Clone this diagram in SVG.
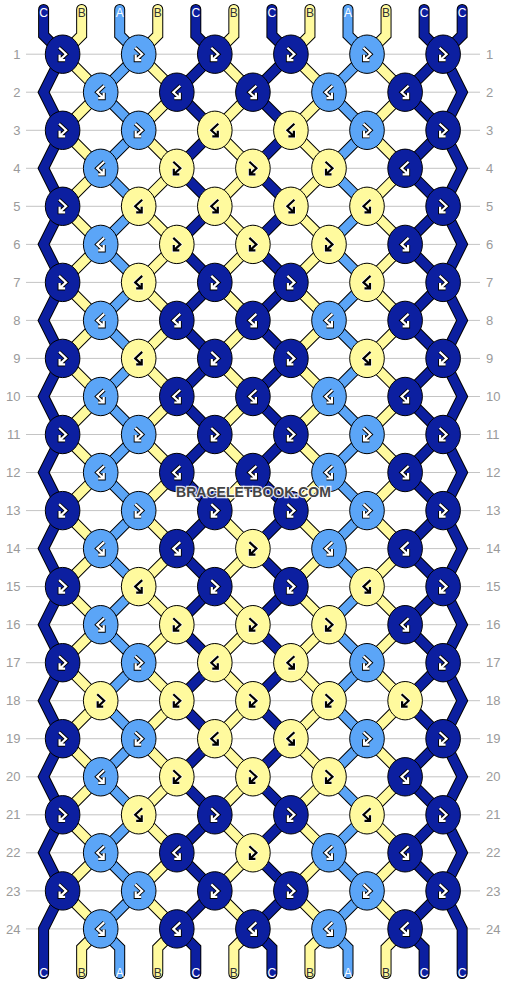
<svg xmlns="http://www.w3.org/2000/svg" xmlns:xlink="http://www.w3.org/1999/xlink" width="506" height="984" viewBox="0 0 506 984">
<style>
.grid line{stroke:#c4c4c4;stroke-width:1}
.rl{font-family:"Liberation Sans",Arial,sans-serif;font-size:13px;fill:#9a9a9a}
.ol{fill:none;stroke:#000;stroke-width:11;stroke-linecap:round;stroke-linejoin:miter}
.sc{fill:none;stroke-width:9;stroke-linecap:round;stroke-linejoin:miter}
.sC{stroke:#0c1fa0}.sA{stroke:#5ba5f7}.sB{stroke:#fffa9e}
ellipse{stroke:#000;stroke-width:1}
.C{fill:#0c1fa0}.A{fill:#5ba5f7}.Y{fill:#fffa9e}
.go{fill:none;stroke:#000;stroke-width:4}
.gw{fill:none;stroke:#fff;stroke-width:2.2}
.gy{fill:none;stroke:#fff;stroke-width:3.6}
.gk{fill:none;stroke:#000;stroke-width:2.2}
.lb{font-family:"Liberation Sans",Arial,sans-serif;font-size:12px;text-anchor:middle}
.lw{fill:#fff}.ld{fill:#333}
.wm{font-family:"Liberation Sans",Arial,sans-serif;font-size:14px;font-weight:bold;text-anchor:middle;fill:#444;stroke:#fff;stroke-width:2.5;stroke-opacity:0.85;paint-order:stroke}
</style>
<defs>
<path id="fbp" d="M-3.5-6.5L3.5 0L-3 6M-3 0.5V6H2.5"/>
<path id="bfp" d="M3.5-6.5L-3.5 0L3 6M3 0.5V6H-2.5"/>
<g id="fbw"><use href="#fbp" class="go"/><use href="#fbp" class="gw"/></g>
<g id="bfw"><use href="#bfp" class="go"/><use href="#bfp" class="gw"/></g>
<g id="fbk"><use href="#fbp" class="gy"/><use href="#fbp" class="gk"/></g>
<g id="bfk"><use href="#bfp" class="gy"/><use href="#bfp" class="gk"/></g>
<path id="s0" d="M43.6 9.5V35.2l19.025 19l-19.025 38.03l19.025 38.03l-19.025 38.03l19.025 38.03l-19.025 38.03l19.025 38.03l-19.025 38.03l19.025 38.03l-19.025 38.03l19.025 38.03l-19.025 38.03l19.025 38.03l-19.025 38.03l19.025 38.03l-19.025 38.03l19.025 38.03l-19.025 38.03l19.025 38.03l-19.025 38.03l19.025 38.03l-19.025 38.03l19.025 38.03l-19.025 38.03V973.5"/>
<path id="s11" d="M462.15 9.5V35.2l-19.025 19l19.025 38.03l-19.025 38.03l19.025 38.03l-19.025 38.03l19.025 38.03l-19.025 38.03l19.025 38.03l-19.025 38.03l19.025 38.03l-19.025 38.03l19.025 38.03l-19.025 38.03l19.025 38.03l-19.025 38.03l19.025 38.03l-19.025 38.03l19.025 38.03l-19.025 38.03l19.025 38.03l-19.025 38.03l19.025 38.03l-19.025 38.03l19.025 38.03V973.5"/>
<path id="po" d="l38.05 38.03l-38.05 38.03l38.05 38.03l-38.05 38.03l38.05 38.03l-38.05 38.03l38.05 38.03l-38.05 38.03l38.05 38.03l-38.05 38.03l38.05 38.03l-38.05 38.03l38.05 38.03l-38.05 38.03l38.05 38.03l-38.05 38.03l38.05 38.03l-38.05 38.03l38.05 38.03l-38.05 38.03l38.05 38.03l-38.05 38.03l38.05 38.03"/>
<path id="s1" d="M81.65 9.5V35.2l-19.025 19l38.05 38.03l-38.05 38.03l38.05 38.03l-38.05 38.03l38.05 38.03l-38.05 38.03l38.05 38.03l-38.05 38.03l38.05 38.03l-38.05 38.03l38.05 38.03l-38.05 38.03l38.05 38.03l-38.05 38.03l38.05 38.03l-38.05 38.03l38.05 38.03l-38.05 38.03l38.05 38.03l-38.05 38.03l38.05 38.03l-38.05 38.03l38.05 38.03l-19.025 19V973.5"/>
<path id="s3" d="M157.75 9.5V35.2l-19.025 19l38.05 38.03l-38.05 38.03l38.05 38.03l-38.05 38.03l38.05 38.03l-38.05 38.03l38.05 38.03l-38.05 38.03l38.05 38.03l-38.05 38.03l38.05 38.03l-38.05 38.03l38.05 38.03l-38.05 38.03l38.05 38.03l-38.05 38.03l38.05 38.03l-38.05 38.03l38.05 38.03l-38.05 38.03l38.05 38.03l-38.05 38.03l38.05 38.03l-19.025 19V973.5"/>
<path id="s5" d="M233.85 9.5V35.2l-19.025 19l38.05 38.03l-38.05 38.03l38.05 38.03l-38.05 38.03l38.05 38.03l-38.05 38.03l38.05 38.03l-38.05 38.03l38.05 38.03l-38.05 38.03l38.05 38.03l-38.05 38.03l38.05 38.03l-38.05 38.03l38.05 38.03l-38.05 38.03l38.05 38.03l-38.05 38.03l38.05 38.03l-38.05 38.03l38.05 38.03l-38.05 38.03l38.05 38.03l-19.025 19V973.5"/>
<path id="s7" d="M309.95 9.5V35.2l-19.025 19l38.05 38.03l-38.05 38.03l38.05 38.03l-38.05 38.03l38.05 38.03l-38.05 38.03l38.05 38.03l-38.05 38.03l38.05 38.03l-38.05 38.03l38.05 38.03l-38.05 38.03l38.05 38.03l-38.05 38.03l38.05 38.03l-38.05 38.03l38.05 38.03l-38.05 38.03l38.05 38.03l-38.05 38.03l38.05 38.03l-38.05 38.03l38.05 38.03l-19.025 19V973.5"/>
<path id="s9" d="M386.05 9.5V35.2l-19.025 19l38.05 38.03l-38.05 38.03l38.05 38.03l-38.05 38.03l38.05 38.03l-38.05 38.03l38.05 38.03l-38.05 38.03l38.05 38.03l-38.05 38.03l38.05 38.03l-38.05 38.03l38.05 38.03l-38.05 38.03l38.05 38.03l-38.05 38.03l38.05 38.03l-38.05 38.03l38.05 38.03l-38.05 38.03l38.05 38.03l-38.05 38.03l38.05 38.03l-19.025 19V973.5"/>
<path id="s2" d="M119.7 9.5V35.2l19.025 19l-38.05 38.03l38.05 38.03l-38.05 38.03l38.05 38.03l-38.05 38.03l38.05 38.03l-38.05 38.03l38.05 38.03l-38.05 38.03l38.05 38.03l-38.05 38.03l38.05 38.03l-38.05 38.03l38.05 38.03l-38.05 38.03l38.05 38.03l-38.05 38.03l38.05 38.03l-38.05 38.03l38.05 38.03l-38.05 38.03l38.05 38.03l-38.05 38.03l19.025 19V973.5"/>
<path id="s4" d="M195.8 9.5V35.2l19.025 19l-38.05 38.03l38.05 38.03l-38.05 38.03l38.05 38.03l-38.05 38.03l38.05 38.03l-38.05 38.03l38.05 38.03l-38.05 38.03l38.05 38.03l-38.05 38.03l38.05 38.03l-38.05 38.03l38.05 38.03l-38.05 38.03l38.05 38.03l-38.05 38.03l38.05 38.03l-38.05 38.03l38.05 38.03l-38.05 38.03l38.05 38.03l-38.05 38.03l19.025 19V973.5"/>
<path id="s6" d="M271.9 9.5V35.2l19.025 19l-38.05 38.03l38.05 38.03l-38.05 38.03l38.05 38.03l-38.05 38.03l38.05 38.03l-38.05 38.03l38.05 38.03l-38.05 38.03l38.05 38.03l-38.05 38.03l38.05 38.03l-38.05 38.03l38.05 38.03l-38.05 38.03l38.05 38.03l-38.05 38.03l38.05 38.03l-38.05 38.03l38.05 38.03l-38.05 38.03l38.05 38.03l-38.05 38.03l19.025 19V973.5"/>
<path id="s8" d="M348 9.5V35.2l19.025 19l-38.05 38.03l38.05 38.03l-38.05 38.03l38.05 38.03l-38.05 38.03l38.05 38.03l-38.05 38.03l38.05 38.03l-38.05 38.03l38.05 38.03l-38.05 38.03l38.05 38.03l-38.05 38.03l38.05 38.03l-38.05 38.03l38.05 38.03l-38.05 38.03l38.05 38.03l-38.05 38.03l38.05 38.03l-38.05 38.03l38.05 38.03l-38.05 38.03l19.025 19V973.5"/>
<path id="s10" d="M424.1 9.5V35.2l19.025 19l-38.05 38.03l38.05 38.03l-38.05 38.03l38.05 38.03l-38.05 38.03l38.05 38.03l-38.05 38.03l38.05 38.03l-38.05 38.03l38.05 38.03l-38.05 38.03l38.05 38.03l-38.05 38.03l38.05 38.03l-38.05 38.03l38.05 38.03l-38.05 38.03l38.05 38.03l-38.05 38.03l38.05 38.03l-38.05 38.03l38.05 38.03l-38.05 38.03l19.025 19V973.5"/>
</defs>
<rect width="506" height="984" fill="#fff"/>
<g id="grid" class="grid">
<line x1="26" x2="480" y1="54.2" y2="54.2"/><line x1="26" x2="480" y1="92.2" y2="92.2"/><line x1="26" x2="480" y1="130.3" y2="130.3"/><line x1="26" x2="480" y1="168.3" y2="168.3"/><line x1="26" x2="480" y1="206.3" y2="206.3"/><line x1="26" x2="480" y1="244.4" y2="244.4"/><line x1="26" x2="480" y1="282.4" y2="282.4"/><line x1="26" x2="480" y1="320.4" y2="320.4"/><line x1="26" x2="480" y1="358.4" y2="358.4"/><line x1="26" x2="480" y1="396.5" y2="396.5"/><line x1="26" x2="480" y1="434.5" y2="434.5"/><line x1="26" x2="480" y1="472.5" y2="472.5"/><line x1="26" x2="480" y1="510.6" y2="510.6"/><line x1="26" x2="480" y1="548.6" y2="548.6"/><line x1="26" x2="480" y1="586.6" y2="586.6"/><line x1="26" x2="480" y1="624.7" y2="624.7"/><line x1="26" x2="480" y1="662.7" y2="662.7"/><line x1="26" x2="480" y1="700.7" y2="700.7"/><line x1="26" x2="480" y1="738.7" y2="738.7"/><line x1="26" x2="480" y1="776.8" y2="776.8"/><line x1="26" x2="480" y1="814.8" y2="814.8"/><line x1="26" x2="480" y1="852.8" y2="852.8"/><line x1="26" x2="480" y1="890.9" y2="890.9"/><line x1="26" x2="480" y1="928.9" y2="928.9"/>
</g>
<g id="row-labels" class="rl">
<g text-anchor="end">
<text x="20.5" y="58.8">1</text><text x="20.5" y="96.8">2</text><text x="20.5" y="134.9">3</text><text x="20.5" y="172.9">4</text><text x="20.5" y="210.9">5</text><text x="20.5" y="249">6</text><text x="20.5" y="287">7</text><text x="20.5" y="325">8</text><text x="20.5" y="363">9</text><text x="20.5" y="401.1">10</text><text x="20.5" y="439.1">11</text><text x="20.5" y="477.1">12</text><text x="20.5" y="515.2">13</text><text x="20.5" y="553.2">14</text><text x="20.5" y="591.2">15</text><text x="20.5" y="629.3">16</text><text x="20.5" y="667.3">17</text><text x="20.5" y="705.3">18</text><text x="20.5" y="743.3">19</text><text x="20.5" y="781.4">20</text><text x="20.5" y="819.4">21</text><text x="20.5" y="857.4">22</text><text x="20.5" y="895.5">23</text><text x="20.5" y="933.5">24</text>
</g>
<g text-anchor="start">
<text x="486" y="58.8">1</text><text x="486" y="96.8">2</text><text x="486" y="134.9">3</text><text x="486" y="172.9">4</text><text x="486" y="210.9">5</text><text x="486" y="249">6</text><text x="486" y="287">7</text><text x="486" y="325">8</text><text x="486" y="363">9</text><text x="486" y="401.1">10</text><text x="486" y="439.1">11</text><text x="486" y="477.1">12</text><text x="486" y="515.2">13</text><text x="486" y="553.2">14</text><text x="486" y="591.2">15</text><text x="486" y="629.3">16</text><text x="486" y="667.3">17</text><text x="486" y="705.3">18</text><text x="486" y="743.3">19</text><text x="486" y="781.4">20</text><text x="486" y="819.4">21</text><text x="486" y="857.4">22</text><text x="486" y="895.5">23</text><text x="486" y="933.5">24</text>
</g>
</g>
<g id="connectors">
<use href="#s0" class="ol"/><use href="#s0" class="sc sC"/>
<use href="#s1" class="ol"/><use href="#s1" class="sc sB"/>
<use href="#s2" class="ol"/><use href="#s2" class="sc sA"/>
<use href="#s3" class="ol"/><use href="#s3" class="sc sB"/>
<use href="#s4" class="ol"/><use href="#s4" class="sc sC"/>
<use href="#s5" class="ol"/><use href="#s5" class="sc sB"/>
<use href="#s6" class="ol"/><use href="#s6" class="sc sC"/>
<use href="#s7" class="ol"/><use href="#s7" class="sc sB"/>
<use href="#s8" class="ol"/><use href="#s8" class="sc sA"/>
<use href="#s9" class="ol"/><use href="#s9" class="sc sB"/>
<use href="#s10" class="ol"/><use href="#s10" class="sc sC"/>
<use href="#s11" class="ol"/><use href="#s11" class="sc sC"/>
</g>
<g id="knots">
<g id="k1-1" transform="translate(62.6 54.2)"><ellipse class="C" rx="17.3" ry="19.2"/><use href="#fbw"/></g>
<g id="k1-2" transform="translate(138.7 54.2)"><ellipse class="A" rx="17.3" ry="19.2"/><use href="#fbw"/></g>
<g id="k1-3" transform="translate(214.8 54.2)"><ellipse class="C" rx="17.3" ry="19.2"/><use href="#fbw"/></g>
<g id="k1-4" transform="translate(290.9 54.2)"><ellipse class="C" rx="17.3" ry="19.2"/><use href="#fbw"/></g>
<g id="k1-5" transform="translate(367 54.2)"><ellipse class="A" rx="17.3" ry="19.2"/><use href="#fbw"/></g>
<g id="k1-6" transform="translate(443.1 54.2)"><ellipse class="C" rx="17.3" ry="19.2"/><use href="#fbw"/></g>
<g id="k2-1" transform="translate(100.7 92.2)"><ellipse class="A" rx="17.3" ry="19.2"/><use href="#bfw"/></g>
<g id="k2-2" transform="translate(176.8 92.2)"><ellipse class="C" rx="17.3" ry="19.2"/><use href="#bfw"/></g>
<g id="k2-3" transform="translate(252.9 92.2)"><ellipse class="C" rx="17.3" ry="19.2"/><use href="#bfw"/></g>
<g id="k2-4" transform="translate(329 92.2)"><ellipse class="A" rx="17.3" ry="19.2"/><use href="#bfw"/></g>
<g id="k2-5" transform="translate(405.1 92.2)"><ellipse class="C" rx="17.3" ry="19.2"/><use href="#bfw"/></g>
<g id="k3-1" transform="translate(62.6 130.3)"><ellipse class="C" rx="17.3" ry="19.2"/><use href="#fbw"/></g>
<g id="k3-2" transform="translate(138.7 130.3)"><ellipse class="A" rx="17.3" ry="19.2"/><use href="#fbw"/></g>
<g id="k3-3" transform="translate(214.8 130.3)"><ellipse class="Y" rx="17.3" ry="19.2"/><use href="#bfk"/></g>
<g id="k3-4" transform="translate(290.9 130.3)"><ellipse class="Y" rx="17.3" ry="19.2"/><use href="#bfk"/></g>
<g id="k3-5" transform="translate(367 130.3)"><ellipse class="A" rx="17.3" ry="19.2"/><use href="#fbw"/></g>
<g id="k3-6" transform="translate(443.1 130.3)"><ellipse class="C" rx="17.3" ry="19.2"/><use href="#fbw"/></g>
<g id="k4-1" transform="translate(100.7 168.3)"><ellipse class="A" rx="17.3" ry="19.2"/><use href="#bfw"/></g>
<g id="k4-2" transform="translate(176.8 168.3)"><ellipse class="Y" rx="17.3" ry="19.2"/><use href="#fbk"/></g>
<g id="k4-3" transform="translate(252.9 168.3)"><ellipse class="Y" rx="17.3" ry="19.2"/><use href="#fbk"/></g>
<g id="k4-4" transform="translate(329 168.3)"><ellipse class="Y" rx="17.3" ry="19.2"/><use href="#fbk"/></g>
<g id="k4-5" transform="translate(405.1 168.3)"><ellipse class="C" rx="17.3" ry="19.2"/><use href="#bfw"/></g>
<g id="k5-1" transform="translate(62.6 206.3)"><ellipse class="C" rx="17.3" ry="19.2"/><use href="#fbw"/></g>
<g id="k5-2" transform="translate(138.7 206.3)"><ellipse class="Y" rx="17.3" ry="19.2"/><use href="#bfk"/></g>
<g id="k5-3" transform="translate(214.8 206.3)"><ellipse class="Y" rx="17.3" ry="19.2"/><use href="#bfk"/></g>
<g id="k5-4" transform="translate(290.9 206.3)"><ellipse class="Y" rx="17.3" ry="19.2"/><use href="#bfk"/></g>
<g id="k5-5" transform="translate(367 206.3)"><ellipse class="Y" rx="17.3" ry="19.2"/><use href="#bfk"/></g>
<g id="k5-6" transform="translate(443.1 206.3)"><ellipse class="C" rx="17.3" ry="19.2"/><use href="#fbw"/></g>
<g id="k6-1" transform="translate(100.7 244.4)"><ellipse class="A" rx="17.3" ry="19.2"/><use href="#bfw"/></g>
<g id="k6-2" transform="translate(176.8 244.4)"><ellipse class="Y" rx="17.3" ry="19.2"/><use href="#fbk"/></g>
<g id="k6-3" transform="translate(252.9 244.4)"><ellipse class="Y" rx="17.3" ry="19.2"/><use href="#fbk"/></g>
<g id="k6-4" transform="translate(329 244.4)"><ellipse class="Y" rx="17.3" ry="19.2"/><use href="#fbk"/></g>
<g id="k6-5" transform="translate(405.1 244.4)"><ellipse class="C" rx="17.3" ry="19.2"/><use href="#bfw"/></g>
<g id="k7-1" transform="translate(62.6 282.4)"><ellipse class="C" rx="17.3" ry="19.2"/><use href="#fbw"/></g>
<g id="k7-2" transform="translate(138.7 282.4)"><ellipse class="Y" rx="17.3" ry="19.2"/><use href="#bfk"/></g>
<g id="k7-3" transform="translate(214.8 282.4)"><ellipse class="C" rx="17.3" ry="19.2"/><use href="#fbw"/></g>
<g id="k7-4" transform="translate(290.9 282.4)"><ellipse class="C" rx="17.3" ry="19.2"/><use href="#fbw"/></g>
<g id="k7-5" transform="translate(367 282.4)"><ellipse class="Y" rx="17.3" ry="19.2"/><use href="#bfk"/></g>
<g id="k7-6" transform="translate(443.1 282.4)"><ellipse class="C" rx="17.3" ry="19.2"/><use href="#fbw"/></g>
<g id="k8-1" transform="translate(100.7 320.4)"><ellipse class="A" rx="17.3" ry="19.2"/><use href="#bfw"/></g>
<g id="k8-2" transform="translate(176.8 320.4)"><ellipse class="C" rx="17.3" ry="19.2"/><use href="#bfw"/></g>
<g id="k8-3" transform="translate(252.9 320.4)"><ellipse class="C" rx="17.3" ry="19.2"/><use href="#bfw"/></g>
<g id="k8-4" transform="translate(329 320.4)"><ellipse class="A" rx="17.3" ry="19.2"/><use href="#bfw"/></g>
<g id="k8-5" transform="translate(405.1 320.4)"><ellipse class="C" rx="17.3" ry="19.2"/><use href="#bfw"/></g>
<g id="k9-1" transform="translate(62.6 358.4)"><ellipse class="C" rx="17.3" ry="19.2"/><use href="#fbw"/></g>
<g id="k9-2" transform="translate(138.7 358.4)"><ellipse class="Y" rx="17.3" ry="19.2"/><use href="#bfk"/></g>
<g id="k9-3" transform="translate(214.8 358.4)"><ellipse class="C" rx="17.3" ry="19.2"/><use href="#fbw"/></g>
<g id="k9-4" transform="translate(290.9 358.4)"><ellipse class="C" rx="17.3" ry="19.2"/><use href="#fbw"/></g>
<g id="k9-5" transform="translate(367 358.4)"><ellipse class="Y" rx="17.3" ry="19.2"/><use href="#bfk"/></g>
<g id="k9-6" transform="translate(443.1 358.4)"><ellipse class="C" rx="17.3" ry="19.2"/><use href="#fbw"/></g>
<g id="k10-1" transform="translate(100.7 396.5)"><ellipse class="A" rx="17.3" ry="19.2"/><use href="#bfw"/></g>
<g id="k10-2" transform="translate(176.8 396.5)"><ellipse class="C" rx="17.3" ry="19.2"/><use href="#bfw"/></g>
<g id="k10-3" transform="translate(252.9 396.5)"><ellipse class="C" rx="17.3" ry="19.2"/><use href="#bfw"/></g>
<g id="k10-4" transform="translate(329 396.5)"><ellipse class="A" rx="17.3" ry="19.2"/><use href="#bfw"/></g>
<g id="k10-5" transform="translate(405.1 396.5)"><ellipse class="C" rx="17.3" ry="19.2"/><use href="#bfw"/></g>
<g id="k11-1" transform="translate(62.6 434.5)"><ellipse class="C" rx="17.3" ry="19.2"/><use href="#fbw"/></g>
<g id="k11-2" transform="translate(138.7 434.5)"><ellipse class="A" rx="17.3" ry="19.2"/><use href="#fbw"/></g>
<g id="k11-3" transform="translate(214.8 434.5)"><ellipse class="C" rx="17.3" ry="19.2"/><use href="#fbw"/></g>
<g id="k11-4" transform="translate(290.9 434.5)"><ellipse class="C" rx="17.3" ry="19.2"/><use href="#fbw"/></g>
<g id="k11-5" transform="translate(367 434.5)"><ellipse class="A" rx="17.3" ry="19.2"/><use href="#fbw"/></g>
<g id="k11-6" transform="translate(443.1 434.5)"><ellipse class="C" rx="17.3" ry="19.2"/><use href="#fbw"/></g>
<g id="k12-1" transform="translate(100.7 472.5)"><ellipse class="A" rx="17.3" ry="19.2"/><use href="#bfw"/></g>
<g id="k12-2" transform="translate(176.8 472.5)"><ellipse class="C" rx="17.3" ry="19.2"/><use href="#bfw"/></g>
<g id="k12-3" transform="translate(252.9 472.5)"><ellipse class="C" rx="17.3" ry="19.2"/><use href="#bfw"/></g>
<g id="k12-4" transform="translate(329 472.5)"><ellipse class="A" rx="17.3" ry="19.2"/><use href="#bfw"/></g>
<g id="k12-5" transform="translate(405.1 472.5)"><ellipse class="C" rx="17.3" ry="19.2"/><use href="#bfw"/></g>
<g id="k13-1" transform="translate(62.6 510.6)"><ellipse class="C" rx="17.3" ry="19.2"/><use href="#fbw"/></g>
<g id="k13-2" transform="translate(138.7 510.6)"><ellipse class="A" rx="17.3" ry="19.2"/><use href="#fbw"/></g>
<g id="k13-3" transform="translate(214.8 510.6)"><ellipse class="C" rx="17.3" ry="19.2"/><use href="#fbw"/></g>
<g id="k13-4" transform="translate(290.9 510.6)"><ellipse class="C" rx="17.3" ry="19.2"/><use href="#fbw"/></g>
<g id="k13-5" transform="translate(367 510.6)"><ellipse class="A" rx="17.3" ry="19.2"/><use href="#fbw"/></g>
<g id="k13-6" transform="translate(443.1 510.6)"><ellipse class="C" rx="17.3" ry="19.2"/><use href="#fbw"/></g>
<g id="k14-1" transform="translate(100.7 548.6)"><ellipse class="A" rx="17.3" ry="19.2"/><use href="#bfw"/></g>
<g id="k14-2" transform="translate(176.8 548.6)"><ellipse class="C" rx="17.3" ry="19.2"/><use href="#bfw"/></g>
<g id="k14-3" transform="translate(252.9 548.6)"><ellipse class="Y" rx="17.3" ry="19.2"/><use href="#fbk"/></g>
<g id="k14-4" transform="translate(329 548.6)"><ellipse class="A" rx="17.3" ry="19.2"/><use href="#bfw"/></g>
<g id="k14-5" transform="translate(405.1 548.6)"><ellipse class="C" rx="17.3" ry="19.2"/><use href="#bfw"/></g>
<g id="k15-1" transform="translate(62.6 586.6)"><ellipse class="C" rx="17.3" ry="19.2"/><use href="#fbw"/></g>
<g id="k15-2" transform="translate(138.7 586.6)"><ellipse class="Y" rx="17.3" ry="19.2"/><use href="#bfk"/></g>
<g id="k15-3" transform="translate(214.8 586.6)"><ellipse class="C" rx="17.3" ry="19.2"/><use href="#fbw"/></g>
<g id="k15-4" transform="translate(290.9 586.6)"><ellipse class="C" rx="17.3" ry="19.2"/><use href="#fbw"/></g>
<g id="k15-5" transform="translate(367 586.6)"><ellipse class="Y" rx="17.3" ry="19.2"/><use href="#bfk"/></g>
<g id="k15-6" transform="translate(443.1 586.6)"><ellipse class="C" rx="17.3" ry="19.2"/><use href="#fbw"/></g>
<g id="k16-1" transform="translate(100.7 624.7)"><ellipse class="A" rx="17.3" ry="19.2"/><use href="#bfw"/></g>
<g id="k16-2" transform="translate(176.8 624.7)"><ellipse class="Y" rx="17.3" ry="19.2"/><use href="#fbk"/></g>
<g id="k16-3" transform="translate(252.9 624.7)"><ellipse class="Y" rx="17.3" ry="19.2"/><use href="#fbk"/></g>
<g id="k16-4" transform="translate(329 624.7)"><ellipse class="Y" rx="17.3" ry="19.2"/><use href="#fbk"/></g>
<g id="k16-5" transform="translate(405.1 624.7)"><ellipse class="C" rx="17.3" ry="19.2"/><use href="#bfw"/></g>
<g id="k17-1" transform="translate(62.6 662.7)"><ellipse class="C" rx="17.3" ry="19.2"/><use href="#fbw"/></g>
<g id="k17-2" transform="translate(138.7 662.7)"><ellipse class="A" rx="17.3" ry="19.2"/><use href="#fbw"/></g>
<g id="k17-3" transform="translate(214.8 662.7)"><ellipse class="Y" rx="17.3" ry="19.2"/><use href="#bfk"/></g>
<g id="k17-4" transform="translate(290.9 662.7)"><ellipse class="Y" rx="17.3" ry="19.2"/><use href="#bfk"/></g>
<g id="k17-5" transform="translate(367 662.7)"><ellipse class="A" rx="17.3" ry="19.2"/><use href="#fbw"/></g>
<g id="k17-6" transform="translate(443.1 662.7)"><ellipse class="C" rx="17.3" ry="19.2"/><use href="#fbw"/></g>
<g id="k18-1" transform="translate(100.7 700.7)"><ellipse class="Y" rx="17.3" ry="19.2"/><use href="#fbk"/></g>
<g id="k18-2" transform="translate(176.8 700.7)"><ellipse class="Y" rx="17.3" ry="19.2"/><use href="#fbk"/></g>
<g id="k18-3" transform="translate(252.9 700.7)"><ellipse class="Y" rx="17.3" ry="19.2"/><use href="#fbk"/></g>
<g id="k18-4" transform="translate(329 700.7)"><ellipse class="Y" rx="17.3" ry="19.2"/><use href="#fbk"/></g>
<g id="k18-5" transform="translate(405.1 700.7)"><ellipse class="Y" rx="17.3" ry="19.2"/><use href="#fbk"/></g>
<g id="k19-1" transform="translate(62.6 738.7)"><ellipse class="C" rx="17.3" ry="19.2"/><use href="#fbw"/></g>
<g id="k19-2" transform="translate(138.7 738.7)"><ellipse class="A" rx="17.3" ry="19.2"/><use href="#fbw"/></g>
<g id="k19-3" transform="translate(214.8 738.7)"><ellipse class="Y" rx="17.3" ry="19.2"/><use href="#bfk"/></g>
<g id="k19-4" transform="translate(290.9 738.7)"><ellipse class="Y" rx="17.3" ry="19.2"/><use href="#bfk"/></g>
<g id="k19-5" transform="translate(367 738.7)"><ellipse class="A" rx="17.3" ry="19.2"/><use href="#fbw"/></g>
<g id="k19-6" transform="translate(443.1 738.7)"><ellipse class="C" rx="17.3" ry="19.2"/><use href="#fbw"/></g>
<g id="k20-1" transform="translate(100.7 776.8)"><ellipse class="A" rx="17.3" ry="19.2"/><use href="#bfw"/></g>
<g id="k20-2" transform="translate(176.8 776.8)"><ellipse class="Y" rx="17.3" ry="19.2"/><use href="#fbk"/></g>
<g id="k20-3" transform="translate(252.9 776.8)"><ellipse class="Y" rx="17.3" ry="19.2"/><use href="#fbk"/></g>
<g id="k20-4" transform="translate(329 776.8)"><ellipse class="Y" rx="17.3" ry="19.2"/><use href="#fbk"/></g>
<g id="k20-5" transform="translate(405.1 776.8)"><ellipse class="C" rx="17.3" ry="19.2"/><use href="#bfw"/></g>
<g id="k21-1" transform="translate(62.6 814.8)"><ellipse class="C" rx="17.3" ry="19.2"/><use href="#fbw"/></g>
<g id="k21-2" transform="translate(138.7 814.8)"><ellipse class="Y" rx="17.3" ry="19.2"/><use href="#bfk"/></g>
<g id="k21-3" transform="translate(214.8 814.8)"><ellipse class="C" rx="17.3" ry="19.2"/><use href="#fbw"/></g>
<g id="k21-4" transform="translate(290.9 814.8)"><ellipse class="C" rx="17.3" ry="19.2"/><use href="#fbw"/></g>
<g id="k21-5" transform="translate(367 814.8)"><ellipse class="Y" rx="17.3" ry="19.2"/><use href="#bfk"/></g>
<g id="k21-6" transform="translate(443.1 814.8)"><ellipse class="C" rx="17.3" ry="19.2"/><use href="#fbw"/></g>
<g id="k22-1" transform="translate(100.7 852.8)"><ellipse class="A" rx="17.3" ry="19.2"/><use href="#bfw"/></g>
<g id="k22-2" transform="translate(176.8 852.8)"><ellipse class="C" rx="17.3" ry="19.2"/><use href="#bfw"/></g>
<g id="k22-3" transform="translate(252.9 852.8)"><ellipse class="Y" rx="17.3" ry="19.2"/><use href="#fbk"/></g>
<g id="k22-4" transform="translate(329 852.8)"><ellipse class="A" rx="17.3" ry="19.2"/><use href="#bfw"/></g>
<g id="k22-5" transform="translate(405.1 852.8)"><ellipse class="C" rx="17.3" ry="19.2"/><use href="#bfw"/></g>
<g id="k23-1" transform="translate(62.6 890.9)"><ellipse class="C" rx="17.3" ry="19.2"/><use href="#fbw"/></g>
<g id="k23-2" transform="translate(138.7 890.9)"><ellipse class="A" rx="17.3" ry="19.2"/><use href="#fbw"/></g>
<g id="k23-3" transform="translate(214.8 890.9)"><ellipse class="C" rx="17.3" ry="19.2"/><use href="#fbw"/></g>
<g id="k23-4" transform="translate(290.9 890.9)"><ellipse class="C" rx="17.3" ry="19.2"/><use href="#fbw"/></g>
<g id="k23-5" transform="translate(367 890.9)"><ellipse class="A" rx="17.3" ry="19.2"/><use href="#fbw"/></g>
<g id="k23-6" transform="translate(443.1 890.9)"><ellipse class="C" rx="17.3" ry="19.2"/><use href="#fbw"/></g>
<g id="k24-1" transform="translate(100.7 928.9)"><ellipse class="A" rx="17.3" ry="19.2"/><use href="#bfw"/></g>
<g id="k24-2" transform="translate(176.8 928.9)"><ellipse class="C" rx="17.3" ry="19.2"/><use href="#bfw"/></g>
<g id="k24-3" transform="translate(252.9 928.9)"><ellipse class="C" rx="17.3" ry="19.2"/><use href="#bfw"/></g>
<g id="k24-4" transform="translate(329 928.9)"><ellipse class="A" rx="17.3" ry="19.2"/><use href="#bfw"/></g>
<g id="k24-5" transform="translate(405.1 928.9)"><ellipse class="C" rx="17.3" ry="19.2"/><use href="#bfw"/></g>
</g>
<g id="string-labels" class="lb">
<text x="43.6" y="16.7" class="lw">C</text><text x="81.65" y="16.7" class="ld">B</text><text x="119.7" y="16.7" class="lw">A</text><text x="157.75" y="16.7" class="ld">B</text><text x="195.8" y="16.7" class="lw">C</text><text x="233.85" y="16.7" class="ld">B</text><text x="271.9" y="16.7" class="lw">C</text><text x="309.95" y="16.7" class="ld">B</text><text x="348" y="16.7" class="lw">A</text><text x="386.05" y="16.7" class="ld">B</text><text x="424.1" y="16.7" class="lw">C</text><text x="462.15" y="16.7" class="lw">C</text>
<text x="43.6" y="976.7" class="lw">C</text><text x="81.65" y="976.7" class="ld">B</text><text x="119.7" y="976.7" class="lw">A</text><text x="157.75" y="976.7" class="ld">B</text><text x="195.8" y="976.7" class="lw">C</text><text x="233.85" y="976.7" class="ld">B</text><text x="271.9" y="976.7" class="lw">C</text><text x="309.95" y="976.7" class="ld">B</text><text x="348" y="976.7" class="lw">A</text><text x="386.05" y="976.7" class="ld">B</text><text x="424.1" y="976.7" class="lw">C</text><text x="462.15" y="976.7" class="lw">C</text>
</g>
<text id="watermark" class="wm" x="253.5" y="497">BRACELETBOOK.COM</text>
</svg>
